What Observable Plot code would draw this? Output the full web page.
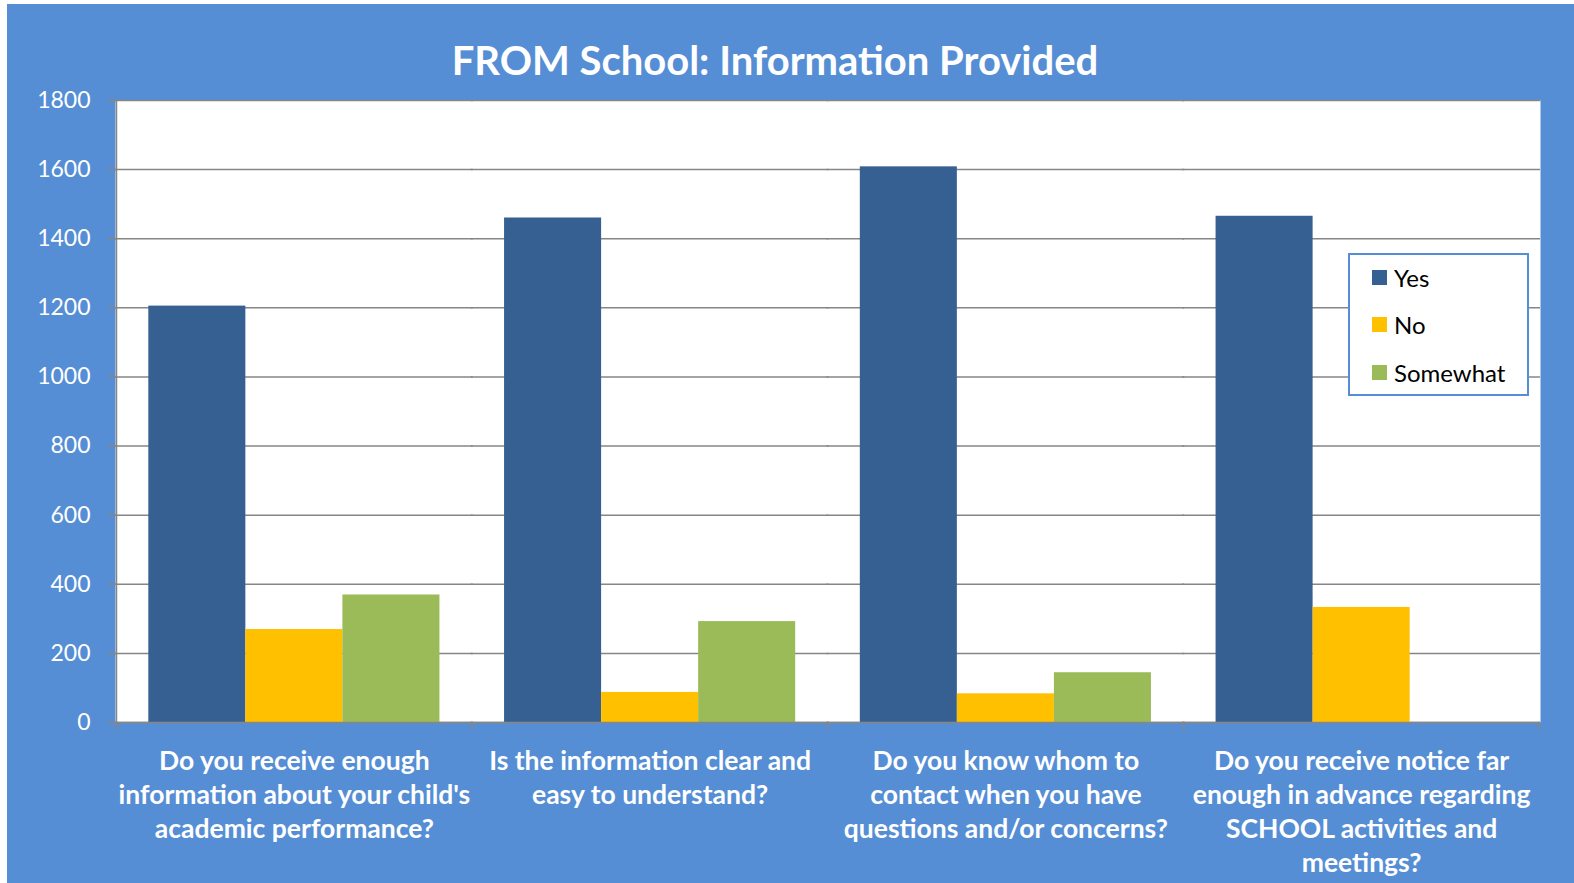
<!DOCTYPE html>
<html>
<head>
<meta charset="utf-8">
<script src="https://cdn.jsdelivr.net/npm/d3@7"></script>
<script src="https://cdn.jsdelivr.net/npm/@observablehq/plot@0.6"></script>
<style>
  html, body { margin: 0; padding: 0; background: #ffffff; }
  #panel { position: absolute; left: 7px; top: 4px; width: 1567px; height: 879px; background: #558ED5; overflow: hidden; }
  #title { position: absolute; left: 0; top: 36px; width: 1536px; text-align: center; color: #ffffff;
           font-family: Lato, "Open Sans", sans-serif; font-weight: bold; font-size: 40px; line-height: 1; }
  #chart { position: absolute; left: 0; top: 0; }
  #legend { position: absolute; left: 1341px; top: 249px; width: 177px; height: 139px; background: #ffffff;
            border: 2px solid #558ED5; font-family: Lato, "Open Sans", sans-serif; font-size: 24px; color: #000; }
  .lrow { position: absolute; left: 22px; height: 24px; display: flex; align-items: center; }
  .lsw { width: 15px; height: 15px; margin-right: 7px; }
</style>
</head>
<body>
<div id="panel">
  <div id="chart"></div>
  <div id="title"></div>
  <div id="legend"></div>
</div>
<script>
const titleText = "FROM School: Information Provided";
const categories = [
  "Do you receive enough information about your child's academic performance?",
  "Is the information clear and easy to understand?",
  "Do you know whom to contact when you have questions and/or concerns?",
  "Do you receive notice far enough in advance regarding SCHOOL activities and meetings?"
];
const categoryLabels = [
  "Do you receive enough\ninformation about your child's\nacademic performance?",
  "Is the information clear and\neasy to understand?",
  "Do you know whom to\ncontact when you have\nquestions and/or concerns?",
  "Do you receive notice far\nenough in advance regarding\nSCHOOL activities and\nmeetings?"
];
const series = ["Yes", "No", "Somewhat"];
const yesValues = [1205, 1460, 1608, 1465];
const noValues = [269, 87, 83, 333];
const somewhatValues = [369, 292, 144, 0];
const seriesColors = ["#366092", "#FFC000", "#9BBB59"];
const yTicks = [0, 200, 400, 600, 800, 1000, 1200, 1400, 1600, 1800];

const valuesBySeries = [yesValues, noValues, somewhatValues];
const data = [];
categories.forEach((c, i) => {
  series.forEach((s, j) => data.push({category: c, series: s, value: valuesBySeries[j][i]}));
});
const labelOf = new Map(categories.map((c, i) => [c, categoryLabels[i]]));

const gray = "#868686";
const plotHeightPx = 879 - 96 - 161;

const chart = Plot.plot({
  width: 1567,
  height: 879,
  marginLeft: 109,
  marginRight: 35,
  marginTop: 96,
  marginBottom: 161,
  style: {background: "transparent", fontFamily: "Lato, 'Open Sans', sans-serif", overflow: "visible"},
  fx: {domain: categories, padding: 0, round: false},
  x: {domain: series, paddingInner: 0, paddingOuter: 0.333, axis: null, round: false},
  y: {domain: [0, 1800]},
  color: {domain: series, range: seriesColors},
  marks: [
    Plot.frame({fill: "white", stroke: null, insetLeft: -1, insetRight: -1}),
    Plot.gridY(yTicks, {stroke: gray, strokeOpacity: 1, strokeWidth: 1.5, insetLeft: -1, insetRight: -1}),
    Plot.barY(data, {fx: "category", x: "series", y: "value", fill: "series"}),
    Plot.ruleY([0], {stroke: gray, strokeWidth: 1.5, insetLeft: -1, insetRight: -1}),
    Plot.frame({anchor: "left", stroke: gray, strokeWidth: 1.5, facetAnchor: "left"}),
    Plot.frame({anchor: "left", stroke: gray, strokeWidth: 1.5, insetTop: plotHeightPx, insetBottom: -7}),
    Plot.frame({anchor: "right", stroke: gray, strokeWidth: 1.5, insetTop: plotHeightPx, insetBottom: -7, facetAnchor: "right"}),
    Plot.axisY(yTicks, {tickSize: 8, tickPadding: 18, stroke: gray, strokeWidth: 1.5, fill: "white", fontSize: 23, label: null, tickFormat: d => String(d)}),
    Plot.axisFx({anchor: "bottom", tickSize: 0, tickPadding: 23, fontSize: 26.5, fontWeight: "bold", fill: "white",
                 lineHeight: 1.29, tickFormat: d => labelOf.get(d), label: null})
  ]
});
document.getElementById("chart").appendChild(chart);
document.getElementById("title").textContent = titleText;

const legend = document.getElementById("legend");
series.forEach((s, j) => {
  const row = document.createElement("div");
  row.className = "lrow";
  row.style.top = (10 + j * 47.5) + "px";
  const sw = document.createElement("div");
  sw.className = "lsw";
  sw.style.background = seriesColors[j];
  const tx = document.createElement("span");
  tx.textContent = s;
  row.appendChild(sw);
  row.appendChild(tx);
  legend.appendChild(row);
});
</script>
</body>
</html>
